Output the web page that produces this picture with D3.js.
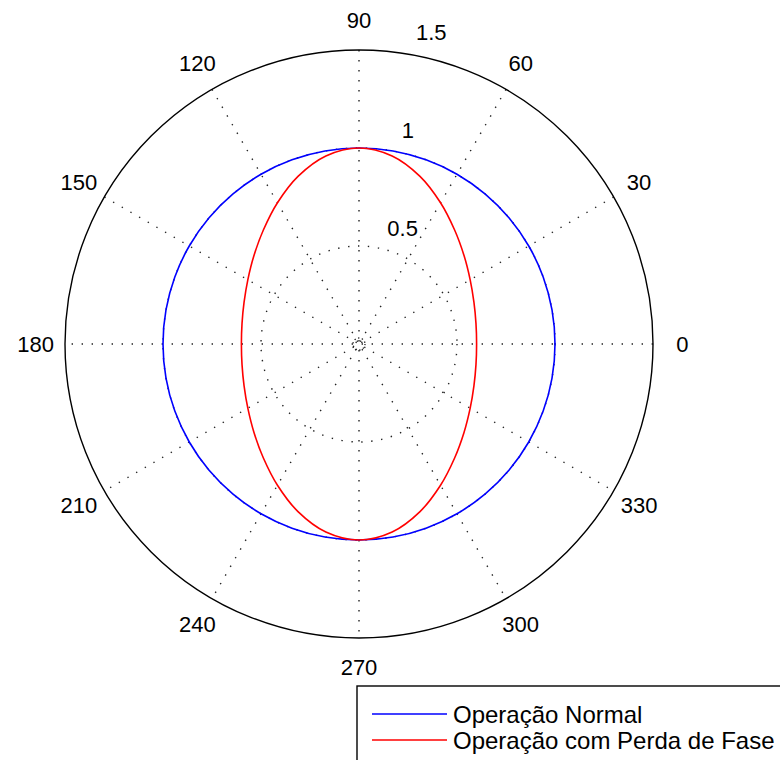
<!DOCTYPE html>
<html>
<head>
<meta charset="utf-8">
<script src="https://cdn.jsdelivr.net/npm/d3@7"></script>
<style>
  body { margin: 0; background: #fff; }
  svg { display: block; }
  text { font-family: "Liberation Sans", Arial, sans-serif; fill: #000; }
</style>
</head>
<body>
<div id="chart"></div>
<script>
// angles in degrees
var angles = [0,10,20,30,40,50,60,70,80,90,100,110,120,130,140,150,160,170,
              180,190,200,210,220,230,240,250,260,270,280,290,300,310,320,330,340,350];
var normal = [1,1,1,1,1,1,1,1,1,1,1,1,1,1,1,1,1,1,
              1,1,1,1,1,1,1,1,1,1,1,1,1,1,1,1,1,1];
var faseLoss = [0.600,0.606,0.624,0.655,0.700,0.759,0.832,0.910,0.974,1.000,0.974,0.910,0.832,0.759,0.700,0.655,0.624,0.606,
                0.600,0.606,0.624,0.655,0.700,0.759,0.832,0.910,0.974,1.000,0.974,0.910,0.832,0.759,0.700,0.655,0.624,0.606];
var spokeAngles = [0,30,60,90,120,150,180,210,240,270,300,330];
var rTicks = [0.5, 1, 1.5];
var rMax = 1.5;
var seriesNames = ["Operação Normal", "Operação com Perda de Fase"];
var seriesColors = ["#0000ff", "#ff0000"];

var width = 780, height = 760;
var cx = 359, cy = 344;

var svg = d3.select("#chart").append("svg")
    .attr("width", width)
    .attr("height", height);

var r = d3.scaleLinear().domain([0, rMax]).range([0, 294]);
var ang = d3.scaleLinear().domain([0, 360]).range([0, 2 * Math.PI]);

var g = svg.append("g").attr("transform", "translate(" + cx + "," + cy + ")");

function px(deg, v) { return r(v) * Math.cos(ang(deg)); }
function py(deg, v) { return -r(v) * Math.sin(ang(deg)); }

// dotted rings
g.selectAll("circle.ring")
    .data(rTicks.slice(0, -1))
    .enter().append("circle")
    .attr("class", "ring")
    .attr("r", function(d){ return r(d); })
    .attr("fill", "none")
    .attr("stroke", "#222")
    .attr("stroke-width", 1.4)
    .attr("stroke-dasharray", "1.4,8.6");

// little ring at the centre
g.append("circle")
    .attr("r", 6)
    .attr("fill", "none")
    .attr("stroke", "#222")
    .attr("stroke-width", 1.3)
    .attr("stroke-dasharray", "1.3,2.5");

// spokes
g.selectAll("line.spoke")
    .data(spokeAngles.slice(0, 6))
    .enter().append("line")
    .attr("class", "spoke")
    .attr("x1", function(d){ return px(d, rMax); })
    .attr("y1", function(d){ return py(d, rMax); })
    .attr("x2", function(d){ return px(d + 180, rMax); })
    .attr("y2", function(d){ return py(d + 180, rMax); })
    .attr("stroke", "#222")
    .attr("stroke-width", 1.4)
    .attr("stroke-dasharray", "1.4,8.6");

// outer circle
g.append("circle")
    .attr("r", r(rMax))
    .attr("fill", "none")
    .attr("stroke", "#000")
    .attr("stroke-width", 1.4);

// angle labels
g.selectAll("text.ang")
    .data(spokeAngles)
    .enter().append("text")
    .attr("class", "ang")
    .attr("x", function(d){ return px(d, rMax * 1.1); })
    .attr("y", function(d){ return py(d, rMax * 1.1); })
    .attr("text-anchor", "middle")
    .attr("dominant-baseline", "central")
    .style("font-size", "22px")
    .text(function(d){ return d; });

// radial labels
g.selectAll("text.rlab")
    .data(rTicks)
    .enter().append("text")
    .attr("class", "rlab")
    .attr("x", function(d){ return px(82, d * 1.05) + 14; })
    .attr("y", function(d){ return -r(d) - 10; })
    .style("font-size", "22px")
    .text(function(d){ return d; });

// curves
var line = d3.lineRadial()
    .angle(function(d){ return Math.PI / 2 - ang(d[0]); })
    .radius(function(d){ return r(d[1]); })
    .curve(d3.curveCardinalClosed);

var series = [normal, faseLoss];
series.forEach(function(vals, i){
    var pts = angles.map(function(a, j){ return [a, vals[j]]; });
    g.append("path")
        .datum(pts)
        .attr("d", line)
        .attr("fill", "none")
        .attr("stroke", seriesColors[i])
        .attr("stroke-width", 1.6);
});

// legend
var leg = svg.append("g").attr("transform", "translate(357,686)");
leg.append("rect")
    .attr("x", 0).attr("y", 0)
    .attr("width", 440).attr("height", 100)
    .attr("fill", "#fff")
    .attr("stroke", "#000")
    .attr("stroke-width", 1.4);

var items = leg.selectAll("g.item")
    .data(seriesNames)
    .enter().append("g")
    .attr("class", "item")
    .attr("transform", function(d, i){ return "translate(0," + (28 + i * 26) + ")"; });

items.append("line")
    .attr("x1", 15).attr("x2", 90)
    .attr("y1", 0).attr("y2", 0)
    .attr("stroke", function(d, i){ return seriesColors[i]; })
    .attr("stroke-width", 1.6);

items.append("text")
    .attr("x", 96)
    .attr("y", 0)
    .attr("dominant-baseline", "central")
    .style("font-size", "24px")
    .text(function(d){ return d; });
</script>
</body>
</html>
